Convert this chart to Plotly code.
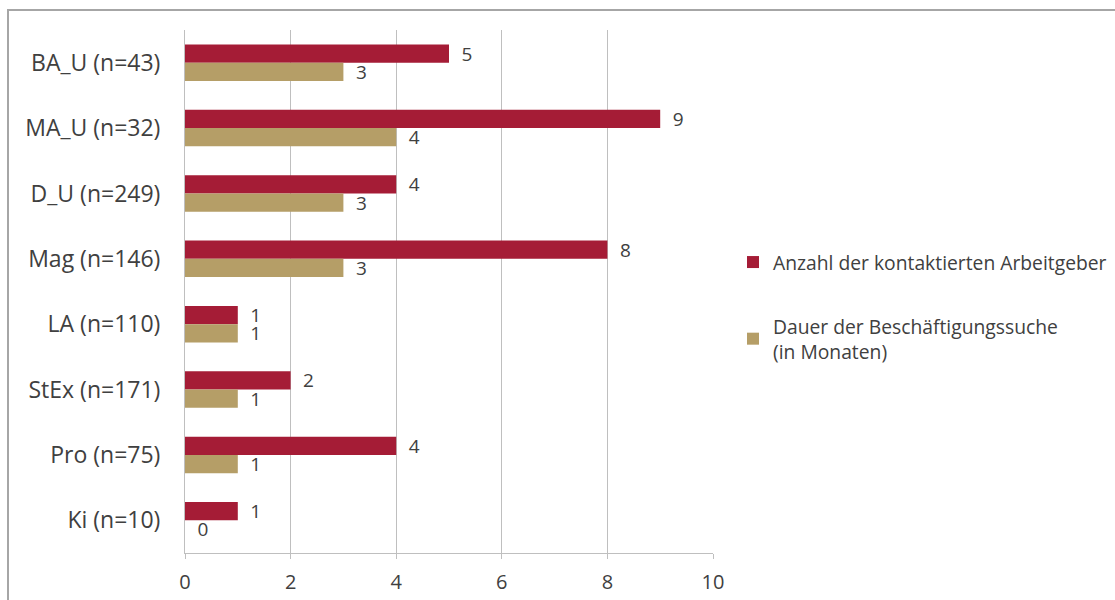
import plotly.graph_objects as go

# Abschlussgruppen und Kennwerte
categories = ["BA_U (n=43)", "MA_U (n=32)", "D_U (n=249)", "Mag (n=146)",
              "LA (n=110)", "StEx (n=171)", "Pro (n=75)", "Ki (n=10)"]
arbeitgeber = [5, 9, 4, 8, 1, 2, 4, 1]
dauer_monate = [3, 4, 3, 3, 1, 1, 1, 0]
x_ticks = [0, 2, 4, 6, 8, 10]

name_arbeitgeber = "Anzahl der kontaktierten Arbeitgeber"
name_dauer = "Dauer der Beschäftigungssuche<br>(in Monaten)"

RED = "#A51C36"
GOLD = "#B59E67"
TEXT = "#404040"
GRID = "#BFBFBF"
FONT = "Open Sans"

W, H = 1115, 600
ML, MR, MT, MB = 185, 402, 30, 47
PW = W - ML - MR
PH = H - MT - MB

label_fmt = "\u2002%{x}"

fig = go.Figure()
fig.add_trace(go.Bar(
    y=categories, x=arbeitgeber, orientation="h", name=name_arbeitgeber,
    marker=dict(color=RED, line=dict(width=0)),
    texttemplate=label_fmt, textposition="outside", cliponaxis=False,
    constraintext="none",
    textfont=dict(size=19, color=TEXT, family=FONT),
    legendgroup="a",
))
fig.add_trace(go.Bar(
    y=categories, x=dauer_monate, orientation="h", name=name_dauer,
    marker=dict(color=GOLD, line=dict(width=0)),
    texttemplate=label_fmt, textposition="outside", cliponaxis=False,
    constraintext="none",
    textfont=dict(size=19, color=TEXT, family=FONT),
    legendgroup="b",
))

# Rahmen um die Grafik (läuft rechts und unten über den Rand hinaus)
def px_x(p):
    return (p - ML) / PW

def px_y(p):
    return 1 - (p - MT) / PH

fig.add_shape(type="rect", xref="paper", yref="paper",
              x0=px_x(8), x1=px_x(1130), y0=px_y(10), y1=px_y(620),
              line=dict(color="#A6A6A6", width=2), fillcolor="rgba(0,0,0,0)",
              layer="below")

fig.update_layout(
    width=W, height=H,
    margin=dict(l=ML, r=MR, t=MT, b=MB, pad=0, autoexpand=False),
    paper_bgcolor="white", plot_bgcolor="white",
    barmode="group", bargap=0.44, bargroupgap=0,
    font=dict(family=FONT, color=TEXT, size=20),
    showlegend=True,
    legend=dict(
        x=px_x(733), xanchor="left", y=px_y(243), yanchor="top",
        traceorder="grouped", tracegroupgap=36,
        font=dict(size=19.3, color=TEXT, family=FONT),
        bgcolor="rgba(0,0,0,0)",
    ),
    xaxis=dict(
        range=[0, 10], tickvals=x_ticks, ticktext=[str(v) for v in x_ticks],
        showgrid=True, gridcolor=GRID, gridwidth=1,
        zeroline=False, showline=True, linecolor=GRID, linewidth=1,
        ticks="outside", ticklen=5, tickcolor=GRID,
        ticklabelstandoff=6, automargin=False,
        tickfont=dict(size=20, color=TEXT, family=FONT),
        fixedrange=True,
    ),
    yaxis=dict(
        autorange="reversed", type="category",
        showgrid=False, zeroline=False,
        showline=True, linecolor=GRID, linewidth=1,
        ticks="", ticklabelstandoff=19, automargin=False,
        tickfont=dict(size=23, color=TEXT, family=FONT),
        fixedrange=True,
    ),
)

fig.write_html("out.html")
